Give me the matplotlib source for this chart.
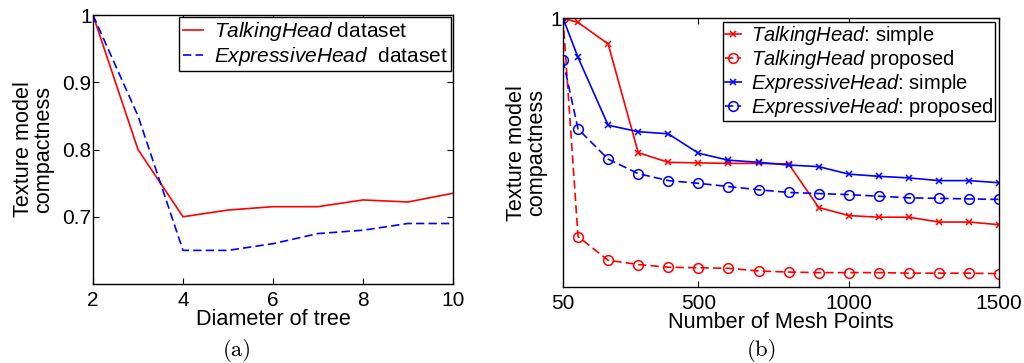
import matplotlib
matplotlib.use("Agg")
import matplotlib.pyplot as plt

plt.rcParams['font.family'] = ['Liberation Sans', 'DejaVu Sans']
plt.rcParams['mathtext.fontset'] = 'custom'
plt.rcParams['mathtext.rm'] = 'Liberation Sans'
plt.rcParams['mathtext.it'] = 'Liberation Sans:italic'

# (a) tree diameter
diameter = [2, 3, 4, 5, 6, 7, 8, 9, 10]
talking_diam = [1.0, 0.80, 0.70, 0.71, 0.715, 0.715, 0.725, 0.722, 0.735]
expressive_diam = [1.0, 0.85, 0.65, 0.65, 0.66, 0.675, 0.68, 0.69, 0.69]

# (b) mesh points
mesh_points = [50, 100, 200, 300, 400, 500, 600, 700, 800, 900, 1000, 1100, 1200, 1300, 1400, 1500]
talking_simple = [1.0, 0.992, 0.952, 0.750, 0.732, 0.731, 0.730, 0.730, 0.729, 0.648,
                  0.633, 0.630, 0.630, 0.621, 0.621, 0.616]
talking_proposed = [1.0, 0.594, 0.550, 0.542, 0.537, 0.536, 0.535, 0.530, 0.528, 0.527,
                    0.527, 0.527, 0.526, 0.526, 0.526, 0.525]
expressive_simple = [1.0, 0.927, 0.801, 0.789, 0.785, 0.749, 0.736, 0.732, 0.727, 0.724,
                     0.710, 0.706, 0.703, 0.698, 0.698, 0.694]
expressive_proposed = [0.922, 0.794, 0.738, 0.711, 0.698, 0.693, 0.687, 0.681, 0.676, 0.674,
                       0.672, 0.669, 0.666, 0.665, 0.664, 0.663]

fig = plt.figure(figsize=(10.24, 3.63), dpi=100)
ax1 = fig.add_axes([0.0908, 0.2176, 0.3516, 0.741])
ax2 = fig.add_axes([0.5498, 0.209, 0.426, 0.741])

fs = 15
lab_fs = 15.6
dash = (5, 2.5)

# panel (a)
ax1.plot(diameter, talking_diam, '-', color='red', lw=1.2, label=r'$\mathit{TalkingHead}$ dataset')
ax1.plot(diameter, expressive_diam, '--', color='blue', lw=1.2, dashes=dash,
         label=r'$\mathit{ExpressiveHead}$  dataset')
ax1.set_xlim(2, 10)
ax1.set_ylim(0.6, 1.0)
ax1.set_xticks([2, 4, 6, 8, 10])
ax1.set_yticks([0.7, 0.8, 0.9, 1.0])
ax1.set_yticklabels(['0.7', '0.8', '0.9', '1'])
ax1.set_xlabel('Diameter of tree', fontsize=lab_fs, labelpad=-1)
ax1.set_ylabel('Texture model\ncompactness', fontsize=lab_fs, labelpad=6, linespacing=0.95)
leg1 = ax1.legend(loc='upper right', fontsize=15, fancybox=False, edgecolor='black',
                  framealpha=1, borderpad=0.15, handlelength=1.0, handletextpad=0.5,
                  labelspacing=0.1, borderaxespad=0.1)
leg1.get_frame().set_linewidth(1.0)

# panel (b)
ax2.plot(mesh_points, talking_simple, '-', color='red', lw=1.2, marker='x', ms=5, mew=1.1,
         label=r'$\mathit{TalkingHead}$: simple')
ax2.plot(mesh_points, talking_proposed, '--', color='red', lw=1.2, dashes=dash, marker='o',
         ms=7, mfc='none', mew=1.1, label=r'$\mathit{TalkingHead}$ proposed')
ax2.plot(mesh_points, expressive_simple, '-', color='blue', lw=1.2, marker='x', ms=5, mew=1.1,
         label=r'$\mathit{ExpressiveHead}$: simple')
ax2.plot(mesh_points, expressive_proposed, '--', color='blue', lw=1.2, dashes=dash, marker='o',
         ms=7, mfc='none', mew=1.1, label=r'$\mathit{ExpressiveHead}$: proposed')
ax2.set_xlim(50, 1500)
ax2.set_ylim(0.5, 1.0)
ax2.set_xticks([50, 500, 1000, 1500])
ax2.set_yticks([1.0])
ax2.set_yticklabels(['1'])
ax2.set_xlabel('Number of Mesh Points', fontsize=lab_fs, labelpad=-1)
ax2.set_ylabel('Texture model\ncompactness', fontsize=lab_fs, labelpad=2, linespacing=0.95)
leg2 = ax2.legend(loc='upper right', fontsize=14.5, fancybox=False, edgecolor='black',
                  framealpha=1, borderpad=0.1, handlelength=0.8, handletextpad=0.5,
                  labelspacing=0.05, borderaxespad=0.2)
leg2.get_frame().set_linewidth(1.0)

for ax in (ax1, ax2):
    ax.tick_params(direction='in', top=True, right=True, labelsize=fs, length=4)
    ax.tick_params(axis='x', pad=5)
    ax.tick_params(axis='y', pad=1)
    for s in ax.spines.values():
        s.set_linewidth(1.0)

fig.text(0.2314, 0.02, '(a)', fontsize=16.5, family='cmr10', ha='center', va='baseline')
fig.text(0.744, 0.02, '(b)', fontsize=16.5, family='cmr10', ha='center', va='baseline')

fig.savefig('out.png', dpi=100)
